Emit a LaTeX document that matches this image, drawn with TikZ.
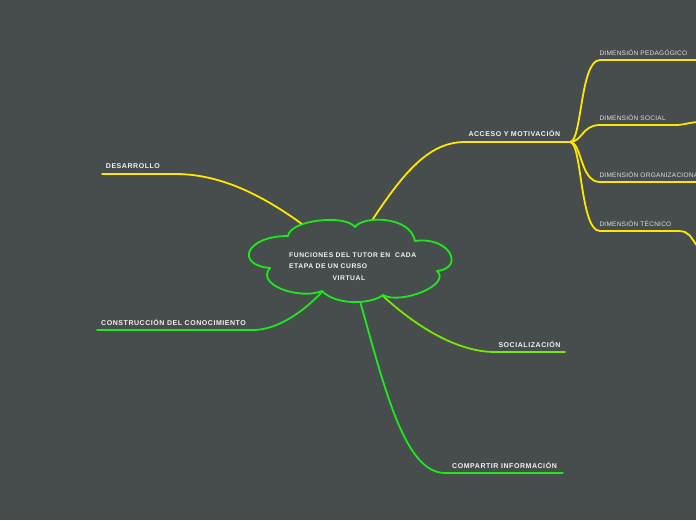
\documentclass[tikz,border=0pt]{standalone}
\usepackage{fontspec}
\setmainfont{Liberation Sans}
\newfontfamily\lblfont[LetterSpace=8]{Liberation Sans}
\newfontfamily\dimfont[LetterSpace=4]{Liberation Sans}
\definecolor{bgc}{RGB}{71,77,77}
\definecolor{yel}{RGB}{255,232,0}
\definecolor{grn}{RGB}{30,232,30}
\definecolor{lime}{RGB}{120,232,0}
\definecolor{txt}{RGB}{242,242,242}
\definecolor{dtxt}{RGB}{225,225,225}
\begin{document}
\begin{tikzpicture}[x=1pt,y=-1pt,
  lbl/.style={font=\lblfont\bfseries\fontsize{7}{8}\selectfont, text=txt, inner sep=0pt, anchor=base west},
  ctext/.style={font=\lblfont\bfseries\fontsize{6.75}{8}\selectfont, text=txt, inner sep=0pt, anchor=base west},
  dimlbl/.style={font=\dimfont\fontsize{6.5}{8}\selectfont, text=dtxt, inner sep=0pt, anchor=base west},
  yline/.style={draw=yel, line width=1.8pt, line cap=round},
  gline/.style={draw=grn, line width=1.8pt, line cap=round},
  lline/.style={draw=lime, line width=1.8pt, line cap=round},
  cloudline/.style={draw=grn, line width=1.8pt, line join=round}]
\fill[bgc] (0,0) rectangle (696,520);
\useasboundingbox (0,0) rectangle (696,520);
\clip (0,0) rectangle (696,520);

% cloud junctions
\coordinate (j1) at (288,236);
\coordinate (j2) at (355,227);
\coordinate (j3) at (415,241);
\coordinate (j4) at (437,271);
\coordinate (j5) at (383,295);
\coordinate (j6) at (322,291);
\coordinate (j7) at (270,268);

% connectors (drawn under the cloud)
\coordinate (acc-s) at (371,222);
\coordinate (acc-a) at (465,142);
\coordinate (acc-b) at (570,142);
\draw[yline] (acc-s) .. controls (405,170) and (430,142) .. (acc-a) -- (acc-b);

\coordinate (des-s) at (302,224);
\coordinate (des-a) at (175,174);
\coordinate (des-b) at (102,174);
\draw[yline] (des-s) .. controls (255,190) and (215,174) .. (des-a) -- (des-b);

\coordinate (con-s) at (322,292);
\coordinate (con-a) at (253,330);
\coordinate (con-b) at (97,330);
\draw[gline] (con-s) .. controls (300,315) and (275,330) .. (con-a) -- (con-b);

\coordinate (soc-s) at (383,296);
\coordinate (soc-a) at (495,352);
\coordinate (soc-b) at (565,352);
\draw[lline] (soc-s) .. controls (420,330) and (460,352) .. (soc-a) -- (soc-b);

\coordinate (com-s) at (360,301);
\coordinate (com-a) at (445,473);
\coordinate (com-b) at (563,473);
\draw[gline] (com-s) .. controls (385,390) and (405,473) .. (com-a) -- (com-b);

% dimension branches
\coordinate (ped-a) at (600,60);
\coordinate (ped-b) at (700,60);
\draw[yline] (acc-b) .. controls (582,142) and (580,60) .. (ped-a) -- (ped-b);
\coordinate (dso-a) at (600,125);
\coordinate (dso-m) at (675,125);
\coordinate (dso-b) at (700,122);
\draw[yline] (acc-b) .. controls (582,142) and (582,125) .. (dso-a) -- (dso-m) .. controls (685,125) and (690,122) .. (dso-b);
\coordinate (org-a) at (600,182);
\coordinate (org-b) at (700,182);
\draw[yline] (acc-b) .. controls (582,142) and (580,182) .. (org-a) -- (org-b);
\coordinate (tec-a) at (600,231);
\coordinate (tec-m) at (678,231);
\coordinate (tec-b) at (698,247);
\draw[yline] (acc-b) .. controls (582,142) and (580,231) .. (tec-a) -- (tec-m) .. controls (690,231) and (690,237) .. (tec-b);

% cloud
\fill[bgc] (j1) .. controls (290,220) and (345,214) .. (j2)
  .. controls (362,216) and (410,215) .. (j3)
  .. controls (450,236) and (465,268) .. (j4)
  .. controls (452,285) and (400,305) .. (j5)
  .. controls (370,305) and (335,305) .. (j6)
  .. controls (300,300) and (255,285) .. (j7)
  .. controls (235,265) and (245,236) .. (j1) -- cycle;
\draw[cloudline] (j1) .. controls (290,220) and (345,214) .. (j2)
  .. controls (362,216) and (410,215) .. (j3)
  .. controls (450,236) and (465,268) .. (j4)
  .. controls (452,285) and (400,305) .. (j5)
  .. controls (370,305) and (335,305) .. (j6)
  .. controls (300,300) and (255,285) .. (j7)
  .. controls (235,265) and (245,236) .. (j1) -- cycle;

% cloud text
\node[ctext] (c1) at (289,257) {FUNCIONES DEL TUTOR EN\ \ CADA};
\node[ctext] (c2) at (289,268.3) {ETAPA DE UN CURSO};
\node[ctext] (c3) at (332.5,280) {VIRTUAL};

% labels
\node[lbl] (acc) at (468.3,136.7) {ACCESO Y MOTIVACIÓN};
\node[lbl] (des) at (105.7,168.7) {DESARROLLO};
\node[lbl] (con) at (101,325) {CONSTRUCCIÓN DEL CONOCIMIENTO};
\node[lbl] (soc) at (498.3,347) {SOCIALIZACIÓN};
\node[lbl] (com) at (452,468) {COMPARTIR INFORMACIÓN};

\node[dimlbl] (ped) at (599.3,55.7) {DIMENSIÓN PEDAGÓGICO};
\node[dimlbl] (dso) at (599.3,120.7) {DIMENSIÓN SOCIAL};
\node[dimlbl] (org) at (599.3,177.7) {DIMENSIÓN ORGANIZACIONAL};
\node[dimlbl] (tec) at (599.3,226.3) {DIMENSIÓN TÉCNICO};
\end{tikzpicture}
\end{document}
